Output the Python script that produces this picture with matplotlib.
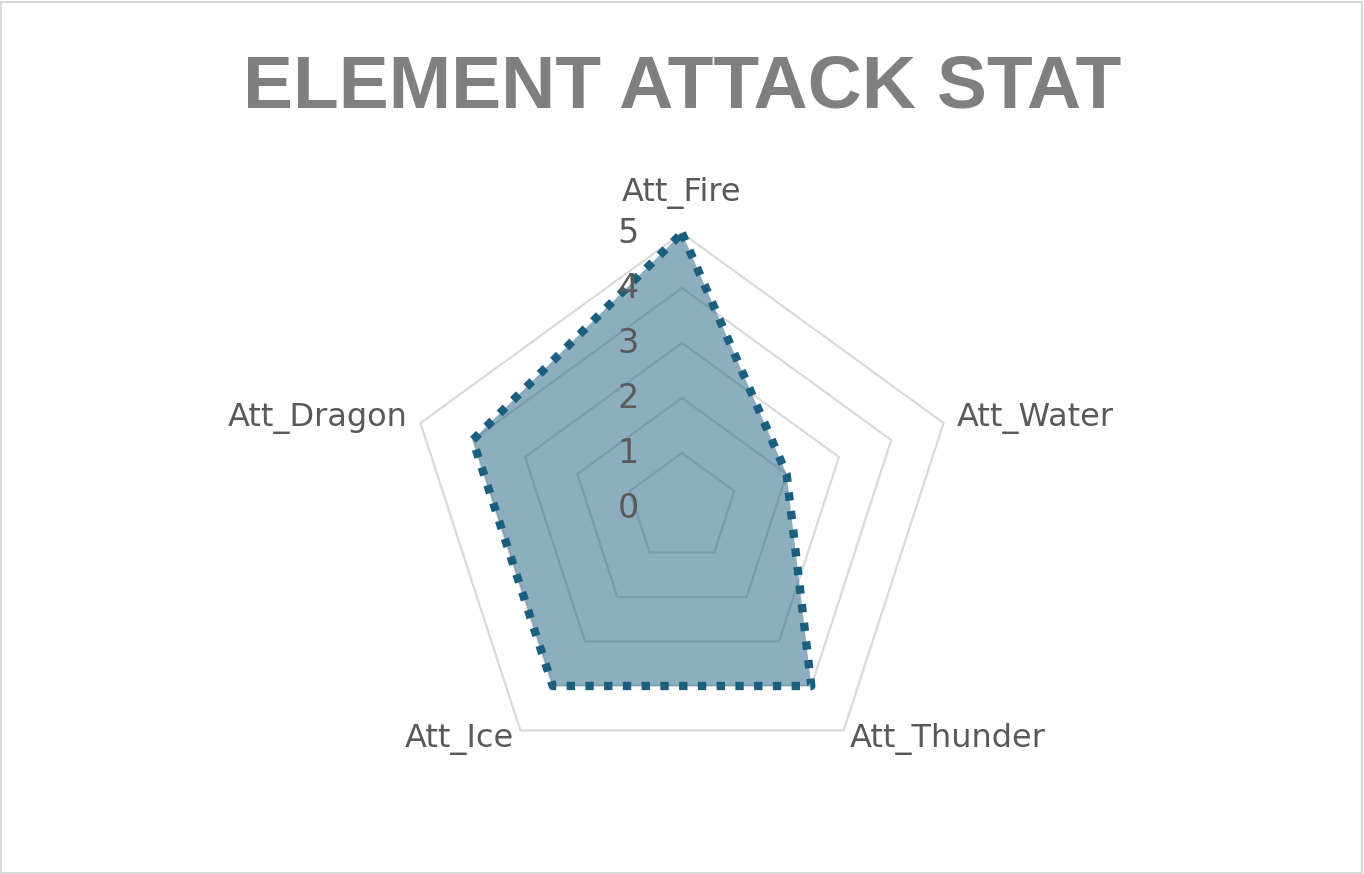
import numpy as np
import matplotlib
matplotlib.use("Agg")
import matplotlib.pyplot as plt
import matplotlib.transforms as mtransforms
from matplotlib.patches import Rectangle

# data
categories = ["Att_Fire", "Att_Water", "Att_Thunder", "Att_Ice", "Att_Dragon"]
values = [5, 2, 4, 4, 4]
rings = [1, 2, 3, 4, 5]
tick_labels = ["0", "1", "2", "3", "4", "5"]

line_color = "#1a5e80"
grid_color = "#d9d9d9"
text_color = "#595959"

W, H = 1364, 874
fig = plt.figure(figsize=(W / 100, H / 100), dpi=100)

cx, cy, R = 682, 508, 275
ax = fig.add_axes([(cx - R) / W, (H - cy - R) / H, 2 * R / W, 2 * R / H], projection="polar")
ax.set_theta_offset(np.pi / 2)
ax.set_theta_direction(-1)
ax.set_ylim(0, 5)
ax.grid(False)
ax.set_xticks([])
ax.set_yticks([])
ax.spines["polar"].set_visible(False)
ax.patch.set_visible(False)

n = len(categories)
theta = np.linspace(0, 2 * np.pi, n, endpoint=False)
theta_c = np.append(theta, theta[0])

# pentagon gridlines
for r in rings:
    ax.plot(theta_c, [r] * (n + 1), color=grid_color, lw=1.6, zorder=1, clip_on=False)

# series
vals_c = np.append(values, values[0])
ax.fill(theta_c, vals_c, color=line_color, alpha=0.5, lw=0, zorder=2)
ax.plot(theta_c, vals_c, color=line_color, lw=6, linestyle=(0, (1, 1.25)),
        dash_capstyle="butt", zorder=3, clip_on=False)

# radial tick labels
off = mtransforms.offset_copy(ax.transData, fig=fig, x=-54, y=0, units="dots")
for i, lab in enumerate(tick_labels):
    ax.text(0, i, lab, transform=off, ha="center", va="center", fontsize=24,
            color=text_color)

# category labels
label_r = [5.73, 5.25, 5.2, 5.2, 5.25]
label_ha = ["center", "left", "left", "right", "right"]
for t, lab, r, ha in zip(theta, categories, label_r, label_ha):
    ax.text(t, r, lab, ha=ha, va="center", fontsize=23, color=text_color,
            clip_on=False)

# title
fig.text(0.5, 1 - 88 / H, "ELEMENT ATTACK STAT", ha="center", va="center",
         fontsize=54, fontweight="bold", color="#7f7f7f",
         family="Liberation Sans")

# border
fig.patches.append(Rectangle((1 / W, 1 / H), 1 - 3 / W, 1 - 3 / H, transform=fig.transFigure,
                             fill=False, edgecolor=grid_color, lw=1.5))

fig.savefig("out.png", dpi=100)
